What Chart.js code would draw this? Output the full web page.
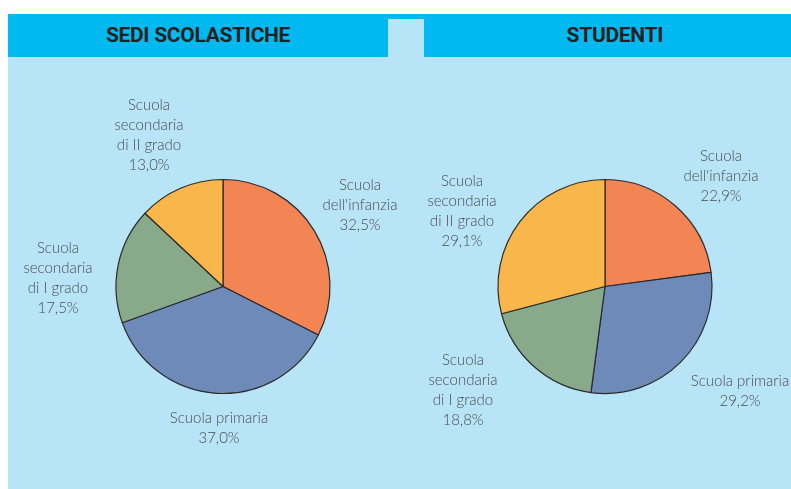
<!DOCTYPE html>
<html lang="it">
<head>
<meta charset="UTF-8">
<title>Sedi scolastiche e studenti</title>
<script src="https://cdn.jsdelivr.net/npm/chart.js"></script>
<style>
  html, body { margin: 0; padding: 0; background: #fff; }
  body { width: 791px; height: 489px; position: relative; overflow: hidden; }
  .panel { position: absolute; left: 8px; top: 14px; width: 783px; height: 475px; background: #b8e4f8; }
  .head { position: absolute; top: 14px; height: 43px; background: #00b9f1; color: #231f20;
          font-family: Roboto, sans-serif; font-weight: 700; font-size: 21px; line-height: 43px;
          text-align: center; letter-spacing: -0.3px; }
  .bridge { position: absolute; left: 388px; top: 14px; width: 36px; height: 5px; background: #00b9f1; }
  .box { position: absolute; top: 57px; width: 420px; height: 432px; }
</style>
</head>
<body>
<div class="panel"></div>
<div class="head" style="left:8px;width:380px;">SEDI SCOLASTICHE</div>
<div class="bridge"></div>
<div class="head" style="left:424px;width:367px;">&nbsp;&nbsp;&nbsp;STUDENTI</div>
<div class="box" style="left:8px;"><canvas id="sedi"></canvas></div>
<div class="box" style="left:371px;"><canvas id="studenti"></canvas></div>

<script>
// categorie (in senso orario dall'alto)
const categories = [
  ['Scuola', "dell'infanzia"],
  ['Scuola primaria'],
  ['Scuola', 'secondaria', 'di I grado'],
  ['Scuola', 'secondaria', 'di II grado']
];
const sediValues = [32.5, 37.0, 17.5, 13.0];
const studentiValues = [22.9, 29.2, 18.8, 29.1];
const colors = ['#f38554', '#6e8ab8', '#88aa8b', '#f9b74b'];

// posizione del blocco etichetta rispetto al centro della torta (px)
const sediLabelPos = [[137, -81], [-4, 142], [-165, -8], [-74, -151]];
const studentiLabelPos = [[116, -110], [135, 105], [-142, 104], [-143, -75]];

const fmt = v => v.toFixed(1).replace('.', ',') + '%';

const outsideLabels = {
  id: 'outsideLabels',
  afterDatasetsDraw(chart, args, opts) {
    const ctx = chart.ctx;
    const arc = chart.getDatasetMeta(0).data[0];
    const cx = arc.x, cy = arc.y;
    const vals = chart.data.datasets[0].data;
    ctx.save();
    ctx.fillStyle = '#4d4d4f';
    ctx.font = '300 15px Lato, "Open Sans", sans-serif';
    ctx.textAlign = 'center';
    ctx.textBaseline = 'middle';
    const lh = 20;
    chart.data.labels.forEach((lines, i) => {
      const all = lines.concat([fmt(vals[i])]);
      const [dx, dy] = opts.pos[i];
      const y0 = cy + dy - (all.length - 1) * lh / 2;
      all.forEach((t, k) => ctx.fillText(t, cx + dx, y0 + k * lh));
    });
    ctx.restore();
  }
};

function makePie(id, values, pos, cxIn) {
  // centro della torta dentro il riquadro 420x432
  const W = 420, H = 432, cyIn = 229.5, r = 107;
  new Chart(document.getElementById(id), {
    type: 'pie',
    data: {
      labels: categories,
      datasets: [{
        data: values,
        backgroundColor: colors,
        borderColor: '#2b2b2b',
        borderWidth: 1.2
      }]
    },
    options: {
      responsive: true,
      maintainAspectRatio: false,
      animation: false,
      radius: r,
      layout: {
        padding: { left: cxIn - r, right: W - cxIn - r, top: cyIn - r, bottom: H - cyIn - r }
      },
      plugins: {
        legend: { display: false },
        tooltip: { enabled: false },
        outsideLabels: { pos: pos }
      }
    },
    plugins: [outsideLabels]
  });
}

makePie('sedi', sediValues, sediLabelPos, 215);
makePie('studenti', studentiValues, studentiLabelPos, 234);
</script>
</body>
</html>
